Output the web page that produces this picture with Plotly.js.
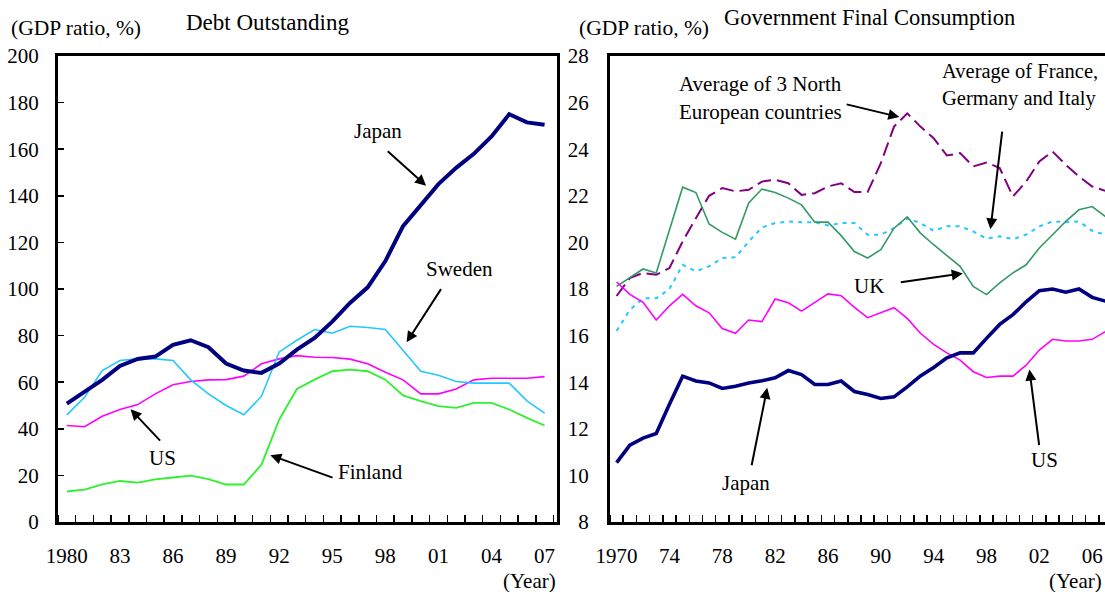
<!DOCTYPE html>
<html>
<head>
<meta charset="utf-8">
<script src="https://cdn.plot.ly/plotly-3.0.1.min.js"></script>
<style>
html, body { margin:0; padding:0; overflow:hidden; background:#fff; }
#chart { width:1125px; height:592px; }
</style>
</head>
<body>
<div id="chart"></div>
<script>
// ---------- Left panel: Debt Outstanding (GDP ratio, %) ----------
const debtYears = [1980,1981,1982,1983,1984,1985,1986,1987,1988,1989,1990,1991,1992,1993,1994,1995,1996,1997,1998,1999,2000,2001,2002,2003,2004,2005,2006,2007];
const debtJapan   = [50.8,56,61,67,70,71,76,78,75,68,65,64,68,74,79,86,94,100.7,112,127,136,145,152,158,165.5,175,171.5,170.5];
const debtSweden  = [46,53.5,65,69.3,70,70,69.3,61,55,50,46,54,73,78,82.6,81,84,83.5,82.6,73.6,64.7,63,60.3,59.6,59.6,59.6,52,46.7];
const debtUS      = [41.4,40.9,45.4,48.3,50.4,55,58.9,60.3,61,61.1,62.6,67.9,70,71.4,70.7,70.6,69.9,67.9,64.3,61,55,55,57.1,61,61.7,61.7,61.7,62.4];
const debtFinland = [13.1,13.9,16.1,17.6,16.9,18.3,19.1,19.9,18.4,16.1,16.1,24.6,43.9,57.1,61.1,64.7,65.4,64.7,61.1,54.3,51.9,49.7,49,51.1,51.1,48.3,44.7,41.4];
const debtTickVals = [1980,1983,1986,1989,1992,1995,1998,2001,2004,2007];
const debtTickText = ['1980','83','86','89','92','95','98','01','04','07'];

// ---------- Right panel: Government Final Consumption (GDP ratio, %) ----------
const gfcYears = [1970,1971,1972,1973,1974,1975,1976,1977,1978,1979,1980,1981,1982,1983,1984,1985,1986,1987,1988,1989,1990,1991,1992,1993,1994,1995,1996,1997,1998,1999,2000,2001,2002,2003,2004,2005,2006,2007];
const gfcJapan = [10.55,11.3,11.6,11.8,13.05,14.26,14.05,13.97,13.73,13.83,13.97,14.06,14.19,14.5,14.33,13.9,13.9,14.05,13.6,13.47,13.3,13.37,13.8,14.27,14.63,15.05,15.26,15.26,15.88,16.48,16.9,17.45,17.93,18.0,17.86,18.0,17.64,17.48];
const gfcUS    = [18.3,17.77,17.43,16.67,17.28,17.77,17.28,16.98,16.3,16.1,16.67,16.6,17.57,17.41,17.05,17.43,17.79,17.71,17.21,16.77,16.98,17.2,16.74,16.1,15.62,15.26,14.95,14.45,14.2,14.26,14.26,14.73,15.38,15.84,15.77,15.77,15.84,16.17];
const gfcUK    = [18.11,18.47,18.86,18.69,20.5,22.37,22.14,20.79,20.43,20.14,21.69,22.29,22.14,21.9,21.61,20.87,20.87,20.29,19.61,19.33,19.69,20.61,21.09,20.4,19.9,19.44,18.97,18.11,17.76,18.26,18.69,19.04,19.76,20.33,20.9,21.4,21.54,21.11];
const gfcNorth = [17.7,18.47,18.69,18.61,18.9,20.04,21.04,22.0,22.33,22.19,22.26,22.61,22.69,22.54,22.04,22.11,22.4,22.54,22.16,22.16,23.4,24.97,25.54,24.97,24.47,23.73,23.83,23.26,23.43,23.19,21.97,22.61,23.47,23.9,23.33,22.83,22.4,22.21];
const gfcFGI   = [16.2,17.1,17.6,17.6,18.0,19.04,18.76,18.97,19.33,19.36,20.04,20.64,20.83,20.9,20.87,20.87,20.73,20.83,20.83,20.33,20.33,20.61,21.04,20.83,20.5,20.69,20.69,20.47,20.16,20.26,20.14,20.33,20.69,20.9,20.87,20.9,20.5,20.33];
const gfcTickVals = [1970,1974,1978,1982,1986,1990,1994,1998,2002,2006];
const gfcTickText = ['1970','74','78','82','86','90','94','98','02','06'];

// ---------- Layout helpers ----------
const W = 1125, H = 592;
const FONT = 'Liberation Serif, Times New Roman, serif';
const FS_TICK = 21, FS_ANN = 21, FS_TITLE = 23;
const px = v => v / W;
const py = v => 1 - v / H;

const navy = '#000080', magenta = '#FF00FF', sky = '#22C8FF', lime = '#2EF02E', sea = '#339966', purple = '#800080';

const traces = [
  {x: debtYears, y: debtFinland, xaxis:'x', yaxis:'y', mode:'lines', line:{color:lime, width:1.8}},
  {x: debtYears, y: debtUS, xaxis:'x', yaxis:'y', mode:'lines', line:{color:magenta, width:1.6}},
  {x: debtYears, y: debtSweden, xaxis:'x', yaxis:'y', mode:'lines', line:{color:sky, width:1.6}},
  {x: debtYears, y: debtJapan, xaxis:'x', yaxis:'y', mode:'lines', line:{color:navy, width:4}},

  {x: gfcYears, y: gfcFGI, xaxis:'x2', yaxis:'y2', mode:'lines', line:{color:sky, width:2, dash:'4px,5px'}},
  {x: gfcYears, y: gfcNorth, xaxis:'x2', yaxis:'y2', mode:'lines', line:{color:purple, width:2, dash:'14px,6px'}},
  {x: gfcYears, y: gfcUK, xaxis:'x2', yaxis:'y2', mode:'lines', line:{color:sea, width:1.6}},
  {x: gfcYears, y: gfcUS, xaxis:'x2', yaxis:'y2', mode:'lines', line:{color:magenta, width:1.6}},
  {x: gfcYears, y: gfcJapan, xaxis:'x2', yaxis:'y2', mode:'lines', line:{color:navy, width:3.6}}
];

const axisBase = {
  showgrid:false, zeroline:false, showline:true, linecolor:'black', linewidth:3, mirror:true,
  tickfont:{family:FONT, size:FS_TICK, color:'black'}, fixedrange:true
};

const yDom = [py(522), py(56)];

const layout = {
  width: W, height: H,
  margin:{l:0, r:0, t:0, b:0},
  paper_bgcolor:'white', plot_bgcolor:'white',
  showlegend:false,
  font:{family:FONT, size:FS_TICK, color:'black'},
  xaxis: Object.assign({}, axisBase, {
    domain:[px(58), px(557)], range:[1979.5, 2007.7],
    tickmode:'array', tickvals:debtTickVals, ticktext:debtTickText, ticks:'', ticklabelstandoff:13,
    minor:{tickmode:'linear', tick0:1979.5, dtick:1, ticks:'inside', ticklen:7, tickwidth:1.5, tickcolor:'black'}
  }),
  yaxis: Object.assign({}, axisBase, {
    domain:yDom, range:[0,200], tickmode:'linear', tick0:0, dtick:20,
    ticks:'inside', ticklen:6, tickwidth:1.5, tickcolor:'black', ticklabelstandoff:12
  }),
  xaxis2: Object.assign({}, axisBase, {
    anchor:'y2', domain:[px(610), px(1112)], range:[1969.5, 2007.5],
    tickmode:'array', tickvals:gfcTickVals, ticktext:gfcTickText, ticks:'', ticklabelstandoff:13,
    minor:{tickmode:'linear', tick0:1969.5, dtick:1, ticks:'inside', ticklen:7, tickwidth:1.5, tickcolor:'black'}
  }),
  yaxis2: Object.assign({}, axisBase, {
    anchor:'x2', domain:yDom, range:[8,28], tickmode:'linear', tick0:8, dtick:2,
    ticks:'', ticklabelstandoff:14
  }),
  annotations: []
};

function paperText(text, x, y, xanchor, size) {
  return {text:text, xref:'paper', yref:'paper', x:px(x), y:py(y), xanchor:xanchor||'center', yanchor:'middle',
          showarrow:false, font:{family:FONT, size:size||FS_ANN, color:'black'}};
}
function dataText(text, xr, yr, x, y, xanchor, size) {
  return {text:text, xref:xr, yref:yr, x:x, y:y, xanchor:xanchor||'center', yanchor:'middle',
          showarrow:false, font:{family:FONT, size:size||FS_ANN, color:'black'}};
}
function arrow(xr, yr, x0, y0, x1, y1) {
  return {text:'', xref:xr, yref:yr, axref:xr, ayref:yr, ax:x0, ay:y0, x:x1, y:y1,
          showarrow:true, arrowhead:2, arrowsize:1.1, arrowwidth:2, arrowcolor:'black', standoff:0, startstandoff:0};
}

layout.annotations.push(
  paperText('(GDP ratio, %)', 9, 28, 'left', 21.5),
  paperText('Debt Outstanding', 267, 22, 'center', FS_TITLE),
  paperText('(Year)', 558, 581, 'right', 21),
  paperText('(GDP ratio, %)', 577, 28, 'left', 21.5),
  paperText('Government Final Consumption', 869, 18, 'center', 22.5),
  paperText('(Year)', 1104, 581, 'right', 21),

  dataText('Japan', 'x', 'y', 1997.6, 167.9),
  arrow('x', 'y', 1998.05, 159.7, 2000.3, 144.3),
  dataText('Sweden', 'x', 'y', 2002.2, 108.4),
  arrow('x', 'y', 2001.2, 100.6, 1999.2, 77.1),
  dataText('US', 'x', 'y', 1985.4, 27.4),
  arrow('x', 'y', 1985.35, 34.3, 1983.6, 48.4),
  dataText('Finland', 'x', 'y', 1997.15, 21.4),
  arrow('x', 'y', 1995.1, 18.8, 1991.5, 28.7),

  dataText('Average of 3 North', 'x2', 'y2', 1974.6, 26.8, 'left'),
  dataText('European countries', 'x2', 'y2', 1974.6, 25.59, 'left'),
  arrow('x2', 'y2', 1987.3, 25.94, 1991.4, 25.38),
  dataText('Average of France,', 'x2', 'y2', 1994.5, 27.35, 'left', 20.5),
  dataText('Germany and Italy', 'x2', 'y2', 1994.5, 26.19, 'left', 20.5),
  arrow('x2', 'y2', 1999.2, 24.82, 1998.3, 20.56),
  dataText('UK', 'x2', 'y2', 1989.1, 18.15),
  arrow('x2', 'y2', 1991.4, 18.28, 1996.2, 18.67),
  dataText('Japan', 'x2', 'y2', 1979.8, 9.68),
  arrow('x2', 'y2', 1980.2, 10.37, 1981.4, 13.76),
  dataText('US', 'x2', 'y2', 2002.4, 10.67),
  arrow('x2', 'y2', 2002.0, 11.23, 2001.25, 14.54)
);

Plotly.newPlot('chart', traces, layout, {staticPlot:true, displayModeBar:false});
</script>
</body>
</html>
